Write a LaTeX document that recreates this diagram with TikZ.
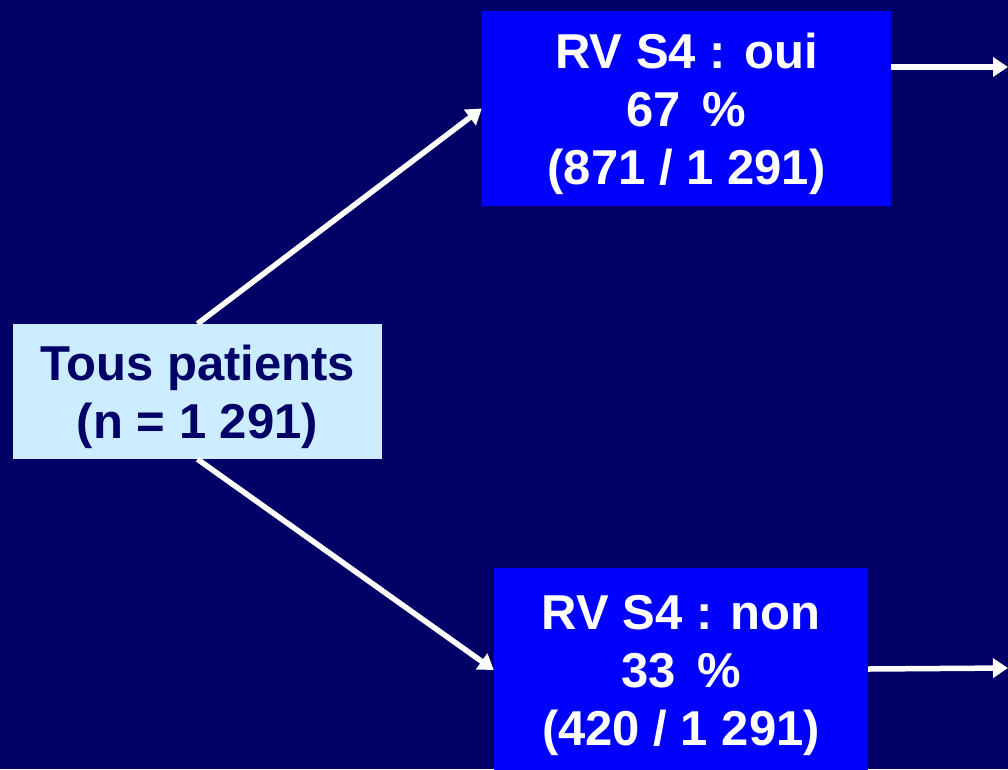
\documentclass[tikz,border=0pt]{standalone}
\usepackage{fontspec}
\setmainfont{Liberation Sans}
\usetikzlibrary{arrows.meta}

\definecolor{nuit}{RGB}{0,0,102}
\definecolor{bleu}{RGB}{0,0,255}
\definecolor{ciel}{RGB}{204,236,255}

\tikzset{
  boite/.style={inner sep=0pt, align=center, text depth=0pt, font=\bfseries\fontsize{49}{58}\selectfont},
  fleche/.style={white, line width=5.5pt, -{Triangle[length=15pt,width=19pt]}}
}

\begin{document}
\begin{tikzpicture}[x=1pt,y=-1pt]
        % fond
        \fill [nuit] (0,0) rectangle (1008,769);
        \useasboundingbox (0,0) rectangle (1008,769);
        \node [boite, fill=ciel, text=nuit, minimum width=369pt, minimum height=135pt] (tous) at (197.5,391.5) {Tous patients\\(n = 1 291)};
        \node [boite, fill=bleu, text=white, minimum width=409pt, minimum height=195pt] (oui) at (686.5,108.5) {RV S4 : oui\\67\ \,\%\\(871 / 1 291)};
        \node [boite, fill=bleu, text=white, minimum width=374pt, minimum height=204pt] (non) at (681,670) {RV S4 : non\\33\ \,\%\\(420 / 1 291)};
        \coordinate (ouifin) at (1008,67);
        \coordinate (nonfin) at (1008,668);
        \draw [fleche] (tous.north) -- (oui.west);
        \draw [fleche] (tous.south) -- (non.west);
        \draw [fleche] (oui.east |- ouifin) -- (ouifin);
        \draw [fleche] (non.east) ++(0,-1) -- (nonfin);
\end{tikzpicture}
\end{document}
